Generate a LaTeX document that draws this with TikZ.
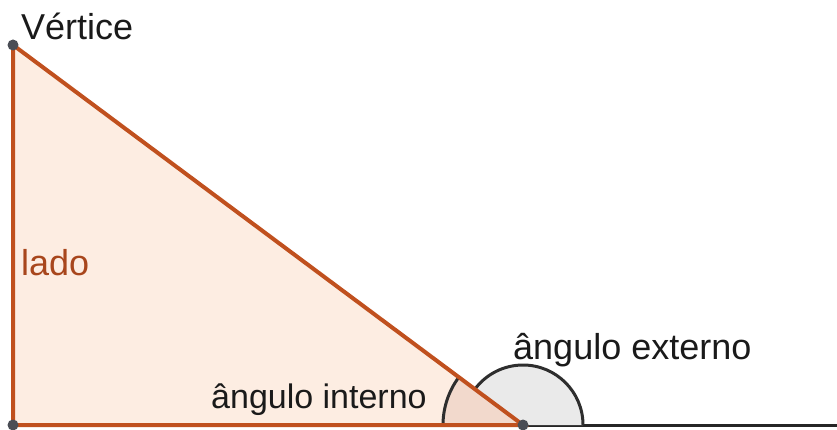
\documentclass[tikz,border=0pt]{standalone}
\usepackage{fontspec}
\setmainfont{Liberation Sans}
\definecolor{edge}{HTML}{C0501E}
\definecolor{tri}{HTML}{FDEDE2}
\definecolor{intfill}{HTML}{F2D9CC}
\definecolor{extfill}{HTML}{EAEAEA}
\definecolor{arcc}{HTML}{2E2E2E}
\definecolor{pt}{HTML}{4A4D55}
\definecolor{txt}{HTML}{1A1A1A}
\definecolor{ladoc}{HTML}{A8461C}
\tikzset{
  side/.style={edge, line width=4pt},
  ray/.style={black!85, line width=3pt},
  anglearc/.style={arcc, line width=3pt},
  vtx/.style={circle, fill=pt, inner sep=0pt, minimum size=11pt},
  lbl/.style={font=\fontsize{36}{36}\selectfont, text=txt, anchor=base west, inner sep=0pt}
}
\begin{document}
\begin{tikzpicture}[x=1pt,y=-1pt]
\useasboundingbox (0,0) rectangle (837,430);
\coordinate (A) at (13,45);
\coordinate (B) at (13,425);
\coordinate (C) at (523,425);
\coordinate (E) at (837,425);
% triangle fill
\fill[tri] (A) -- (B) -- (C) -- cycle;
% exterior ray
\draw[ray] (C) -- (E);
% exterior angle
\fill[extfill] (C) -- ++(0:60pt) arc[start angle=0, end angle=143.3, radius=60pt] -- cycle;
\draw[anglearc] ([shift={(0:60pt)}]C) arc[start angle=0, end angle=143.3, radius=60pt];
% interior angle
\fill[intfill] (C) -- ++(180:80pt) arc[start angle=180, end angle=143.3, radius=80pt] -- cycle;
\draw[anglearc] ([shift={(180:80pt)}]C) arc[start angle=180, end angle=143.3, radius=80pt];
% sides
\draw[side] (A) -- (B) -- (C) -- cycle;
% vertices
\node[vtx] (vA) at (A) {};
\node[vtx] (vB) at (B) {};
\node[vtx] (vC) at (C) {};
% labels
\node[lbl] (lv) at (21,40) {Vértice};
\node[lbl, text=ladoc] (ll) at (21,275) {lado};
\node[lbl, font=\fontsize{34}{34}\selectfont] (li) at (211,408) {ângulo interno};
\node[lbl] (le) at (513,359) {ângulo externo};
\end{tikzpicture}
\end{document}
